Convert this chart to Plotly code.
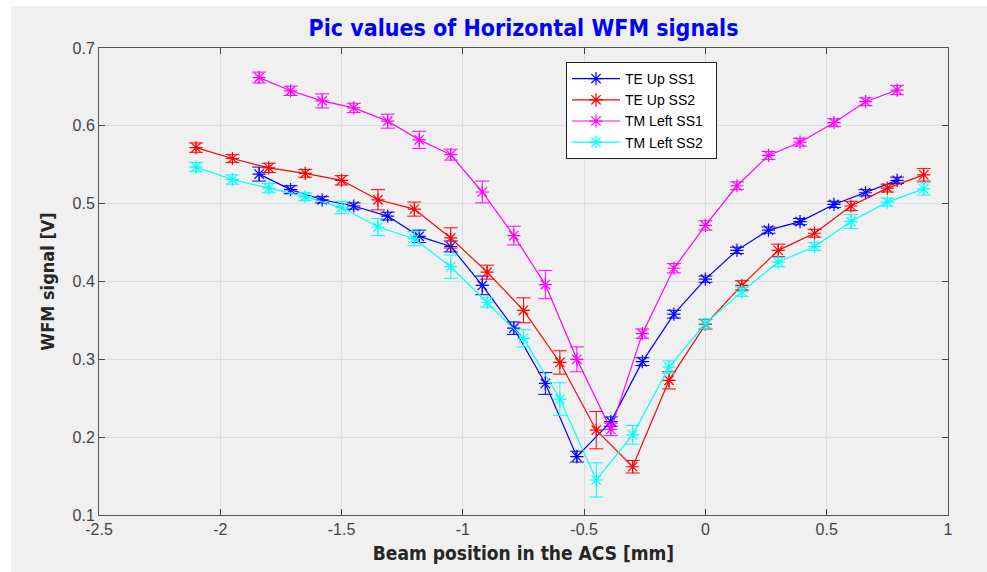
import plotly.graph_objects as go

# Beam positions [mm]
x_ss1 = [-1.84, -1.71, -1.58, -1.45, -1.31, -1.18, -1.05, -0.92, -0.79, -0.66, -0.53,
         -0.39, -0.26, -0.13, 0.0, 0.13, 0.26, 0.39, 0.53, 0.66, 0.79]
x_ss2 = [-2.1, -1.95, -1.8, -1.65, -1.5, -1.35, -1.2, -1.05, -0.9, -0.75, -0.6,
         -0.45, -0.3, -0.15, 0.0, 0.15, 0.3, 0.45, 0.6, 0.75, 0.9]

# Peak WFM signal [V] and standard deviation
te_up_ss1 = [0.538, 0.518, 0.505, 0.497, 0.484, 0.458, 0.445, 0.395, 0.340, 0.269, 0.175,
             0.220, 0.297, 0.358, 0.403, 0.440, 0.466, 0.477, 0.499, 0.514, 0.530]
te_up_ss1_err = [0.009, 0.005, 0.004, 0.004, 0.005, 0.008, 0.007, 0.012, 0.008, 0.014, 0.007,
                 0.006, 0.005, 0.005, 0.004, 0.004, 0.004, 0.004, 0.004, 0.004, 0.004]

te_up_ss2 = [0.572, 0.558, 0.546, 0.539, 0.530, 0.505, 0.493, 0.456, 0.412, 0.363, 0.296,
             0.209, 0.162, 0.273, 0.345, 0.395, 0.440, 0.462, 0.497, 0.520, 0.537]
te_up_ss2_err = [0.006, 0.005, 0.006, 0.005, 0.006, 0.013, 0.009, 0.013, 0.009, 0.016, 0.015,
                 0.024, 0.008, 0.011, 0.006, 0.006, 0.008, 0.005, 0.006, 0.005, 0.008]

tm_left_ss1 = [0.662, 0.645, 0.632, 0.623, 0.606, 0.582, 0.563, 0.515, 0.459, 0.396, 0.300,
               0.210, 0.333, 0.417, 0.472, 0.523, 0.562, 0.579, 0.604, 0.631, 0.646]
tm_left_ss1_err = [0.007, 0.006, 0.009, 0.006, 0.009, 0.011, 0.007, 0.014, 0.012, 0.018, 0.016,
                   0.008, 0.006, 0.006, 0.006, 0.005, 0.005, 0.005, 0.005, 0.005, 0.006]

tm_left_ss2 = [0.547, 0.531, 0.520, 0.509, 0.495, 0.470, 0.455, 0.419, 0.373, 0.327, 0.249,
               0.145, 0.203, 0.290, 0.346, 0.387, 0.425, 0.445, 0.477, 0.502, 0.519]
tm_left_ss2_err = [0.006, 0.006, 0.006, 0.005, 0.008, 0.011, 0.009, 0.015, 0.006, 0.011, 0.021,
                   0.022, 0.012, 0.008, 0.006, 0.006, 0.006, 0.005, 0.009, 0.005, 0.008]

x_ticks = [-2.5, -2, -1.5, -1, -0.5, 0, 0.5, 1]
x_tick_text = ["-2.5", "-2", "-1.5", "-1", "-0.5", "0", "0.5", "1"]
y_ticks = [0.1, 0.2, 0.3, 0.4, 0.5, 0.6, 0.7]
y_tick_text = ["0.1", "0.2", "0.3", "0.4", "0.5", "0.6", "0.7"]

series = [
    ("TE Up SS1", x_ss1, te_up_ss1, te_up_ss1_err, "#0000ff"),
    ("TE Up SS2", x_ss2, te_up_ss2, te_up_ss2_err, "#ff0000"),
    ("TM Left SS1", x_ss1, tm_left_ss1, tm_left_ss1_err, "#ff00ff"),
    ("TM Left SS2", x_ss2, tm_left_ss2, tm_left_ss2_err, "#00ffff"),
]

NARROW = "Liberation Sans Narrow, DejaVu Sans Condensed, Arial Narrow, sans-serif"
REGULAR = "Liberation Sans, Arial, sans-serif"

fig = go.Figure()
for name, xs, ys, es, col in series:
    fig.add_trace(go.Scatter(
        x=xs, y=ys, name=name + "\u00a0\u00a0", mode="lines+markers",
        line=dict(color=col, width=1.2),
        marker=dict(symbol="asterisk-open", size=11, color=col, line=dict(color=col, width=1.2)),
        error_y=dict(type="data", array=es, visible=True, color=col, thickness=1, width=7),
    ))

W, H = 987, 572
ML, MR, MT, MB = 99, 39, 48, 57
pw, ph = W - ML - MR, H - MT - MB

# grey figure face, leaving a thin white strip at left and top
fig.add_shape(type="rect", xref="paper", yref="paper", layer="below",
              x0=(11 - ML) / pw, x1=(W - ML) / pw,
              y0=-(H - MT - ph) / ph, y1=(MT - 6) / ph + 1,
              fillcolor="#f0f0f0", line=dict(width=0))

axis_common = dict(
    showgrid=True, gridcolor="#dedede", gridwidth=1,
    showline=True, linecolor="#555555", linewidth=1, mirror="ticks",
    ticks="inside", ticklen=6, tickcolor="#444444",
    tickfont=dict(family=REGULAR, size=16, color="#444444"),
    zeroline=False,
)

fig.update_layout(
    width=W, height=H,
    margin=dict(l=ML, r=MR, t=MT, b=MB),
    paper_bgcolor="white", plot_bgcolor="white",
    title=dict(text="<b>Pic values of Horizontal WFM signals</b>",
               x=(ML + pw / 2) / W, xanchor="center", y=1 - 28 / H, yanchor="middle",
               font=dict(family=NARROW, size=23, color="#0000ff")),
    xaxis=dict(range=[-2.5, 1], tickvals=x_ticks, ticktext=x_tick_text,
               title=dict(text="<b>Beam position in the ACS [mm]</b>", standoff=9,
                          font=dict(family=NARROW, size=19, color="#262626")),
               **axis_common),
    yaxis=dict(range=[0.1, 0.7], tickvals=y_ticks, ticktext=y_tick_text,
               title=dict(text="<b>WFM signal [V]</b>", standoff=13,
                          font=dict(family=NARROW, size=18, color="#262626")),
               **axis_common),
    legend=dict(x=(566 - ML) / pw, y=1 - (62 - MT) / ph, xanchor="left", yanchor="top",
                bgcolor="white", bordercolor="#222222", borderwidth=1,
                font=dict(family=REGULAR, size=14, color="#000000"),
                itemwidth=48, tracegroupgap=0),
    showlegend=True,
)

fig.write_html("out.html")
